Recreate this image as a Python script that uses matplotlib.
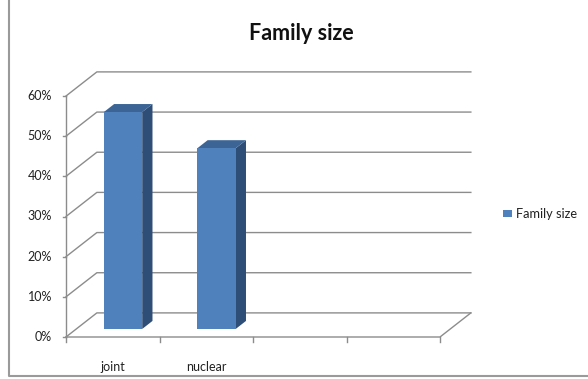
import numpy as np
import matplotlib.pyplot as plt
from matplotlib.patches import Polygon, Rectangle

plt.rcParams['font.family'] = ['Lato', 'DejaVu Sans']

# chart data
categories = ["joint", "nuclear", "", ""]
values = [54, 45]
series_name = "Family size"
yticks = [0, 10, 20, 30, 40, 50, 60]

# oblique depth of the 3d box, in data units (categories, percent)
depth = np.array([0.33, 6.0])
bar_width = 0.41
grid_col = "#8c8c8c"
front_col = "#4f81bd"
top_col = "#3c6596"
side_col = "#2f4e77"
txt_col = "#222222"

fig = plt.figure(figsize=(5.88, 3.79), dpi=100)
ax = fig.add_axes([66 / 588, 42 / 379, 374 / 588, 241 / 379])
ax.set_xlim(0, len(categories))
ax.set_ylim(0, yticks[-1])
ax.axis("off")

n = len(categories)
dx, dy = depth

# side wall + back wall gridlines
for v in yticks:
    ax.plot([0, dx, n + dx], [v, v + dy, v + dy], color=grid_col, lw=1.0,
            clip_on=False, zorder=1)

# floor
ax.plot([0, n, n + dx], [0, 0, dy], color=grid_col, lw=1.0, clip_on=False, zorder=1)

# value axis with small ticks
ax.plot([0, 0], [0, yticks[-1]], color=grid_col, lw=1.0, clip_on=False, zorder=1)
for v in yticks:
    ax.plot([-0.035, 0], [v, v], color=grid_col, lw=1.0, clip_on=False)
    ax.text(-0.15, v, f"{v}%", ha="right", va="center", fontsize=9,
            color=txt_col)

# category ticks and labels
for i in range(n + 1):
    ax.plot([i, i], [0, -1.2], color=grid_col, lw=1.0, clip_on=False)
for i, c in enumerate(categories):
    ax.text(i + 0.5, -7.4, c, ha="center", va="center", fontsize=9,
            color=txt_col)

# 3d bars, sitting in the middle third of the depth
for i, v in enumerate(values):
    x0 = i + 0.5 - bar_width / 2 + dx / 3
    x1 = x0 + bar_width
    b = dy / 3
    t = b + v
    ox, oy = dx / 3, dy / 3
    side = Polygon([(x1, b), (x1 + ox, b + oy), (x1 + ox, t + oy), (x1, t)],
                   closed=True, fc=side_col, ec="none", clip_on=False, zorder=3)
    top = Polygon([(x0, t), (x0 + ox, t + oy), (x1 + ox, t + oy), (x1, t)],
                  closed=True, fc=top_col, ec="none", clip_on=False, zorder=3)
    front = Rectangle((x0, b), bar_width, v, fc=front_col, ec="none",
                      clip_on=False, zorder=4)
    ax.add_patch(side)
    ax.add_patch(top)
    ax.add_patch(front)

# title
fig.text(301 / 588, 1 - 34 / 379, "Family size", ha="center", va="center",
         fontsize=15.5, fontweight="bold", color="#111111")

# legend
fig.patches.append(Rectangle((503 / 588, 1 - 217 / 379), 9 / 588, 7 / 379,
                             transform=fig.transFigure, fc=front_col, ec="none"))
fig.text(516 / 588, 1 - 214 / 379, series_name, ha="left", va="center",
         fontsize=9.2, color=txt_col)

# chart border
fig.add_artist(plt.Line2D([9 / 588, 9 / 588, 1], [1, 1 - 376 / 379, 1 - 376 / 379],
                          transform=fig.transFigure, color="#9a9a9a", lw=1.5))

fig.savefig("out.png", dpi=100)
